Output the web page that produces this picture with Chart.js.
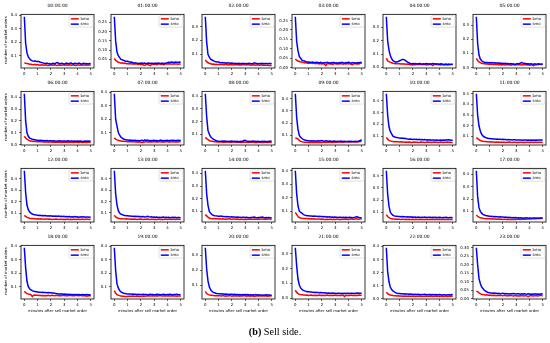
<!DOCTYPE html>
<html><head><meta charset="utf-8">
<script src="https://cdn.jsdelivr.net/npm/chart.js@4.4.1/dist/chart.umd.min.js"></script>
<style>
html,body{margin:0;padding:0;background:#fff;}
#wrap{position:relative;width:550px;height:343px;overflow:hidden;font-family:"DejaVu Sans",sans-serif;}
canvas{position:absolute;}
.t{position:absolute;white-space:nowrap;color:#000;line-height:1;}
</style></head>
<body><div id="wrap"></div>
<script>
const minutes = [0.0,0.1,0.2,0.3,0.4,0.5,0.6,0.7,0.8,0.9,1.0,1.1,1.2,1.3,1.4,1.5,1.6,1.7,1.8,1.9,2.0,2.1,2.2,2.3,2.4,2.5,2.6,2.7,2.8,2.9,3.0,3.1,3.2,3.3,3.4,3.5,3.6,3.7,3.8,3.9,4.0,4.1,4.2,4.3,4.4,4.5,4.6,4.7,4.8,4.9,5.0];
const xTicks = [0,1,2,3,4,5];
const panelTitles = ["00:00:00","01:00:00","02:00:00","03:00:00","04:00:00","05:00:00","06:00:00","07:00:00","08:00:00","09:00:00","10:00:00","11:00:00","12:00:00","13:00:00","14:00:00","15:00:00","16:00:00","17:00:00","18:00:00","19:00:00","20:00:00","21:00:00","22:00:00","23:00:00"];
const seriesNames = ["bmo","smo"];
const seriesColors = ["#ff0000","#0000ff"];
const yStep = [0.1,0.05,0.1,0.05,0.1,0.1, 0.1,0.1,0.1,0.1,0.1,0.1, 0.1,0.1,0.1,0.1,0.1,0.1, 0.1,0.1,0.1,0.1,0.1,0.05];

const smo00=[0.39,0.19,0.12,0.09,0.075,0.065,0.06,0.058,0.06,0.055,0.055,
0.056,0.05,0.048,0.045,0.042,0.04,0.043,0.038,0.04,0.036,
0.04,0.042,0.038,0.045,0.048,0.04,0.038,0.042,0.04,0.036,
0.04,0.043,0.038,0.04,0.045,0.04,0.037,0.042,0.04,0.038,
0.043,0.04,0.036,0.04,0.042,0.038,0.04,0.037,0.04,0.038];
const bmo00=[0.045,0.042,0.04,0.038,0.035,0.035,0.033,0.032,0.034,0.03,0.032,
0.03,0.028,0.031,0.029,0.027,0.03,0.028,0.025,0.028,0.03,
0.027,0.029,0.031,0.028,0.026,0.03,0.028,0.027,0.03,0.029,
0.027,0.03,0.028,0.031,0.029,0.027,0.03,0.028,0.026,0.029,
0.03,0.028,0.03,0.027,0.029,0.031,0.028,0.03,0.029,0.028];
const smo01=[0.28,0.15,0.09,0.07,0.06,0.05,0.048,0.045,0.042,0.04,0.04,
0.038,0.035,0.036,0.033,0.03,0.032,0.03,0.028,0.03,0.029,
0.031,0.028,0.03,0.027,0.029,0.031,0.028,0.03,0.029,0.027,
0.03,0.028,0.031,0.029,0.028,0.03,0.027,0.029,0.03,0.033,
0.035,0.034,0.036,0.035,0.034,0.036,0.035,0.034,0.036,0.035];
const bmo01=[0.055,0.045,0.04,0.035,0.033,0.03,0.032,0.028,0.03,0.027,0.028,
0.026,0.028,0.025,0.027,0.024,0.026,0.025,0.023,0.025,0.022,
0.024,0.02,0.018,0.022,0.024,0.02,0.017,0.022,0.025,0.023,
0.025,0.022,0.024,0.026,0.023,0.025,0.022,0.024,0.026,0.025,
0.027,0.025,0.026,0.024,0.027,0.025,0.026,0.024,0.025,0.026];
const smo02=[0.37,0.19,0.1,0.08,0.065,0.06,0.055,0.05,0.048,0.045,0.045,
0.042,0.04,0.042,0.038,0.04,0.037,0.04,0.038,0.036,0.038,
0.036,0.035,0.037,0.034,0.036,0.035,0.033,0.036,0.034,0.035,
0.033,0.035,0.036,0.034,0.033,0.035,0.04,0.036,0.034,0.033,
0.035,0.034,0.036,0.033,0.035,0.034,0.033,0.035,0.034,0.035];
const bmo02=[0.06,0.048,0.04,0.036,0.033,0.03,0.031,0.028,0.03,0.028,0.027,
0.029,0.027,0.028,0.026,0.028,0.027,0.025,0.028,0.026,0.027,
0.025,0.027,0.026,0.028,0.025,0.026,0.024,0.027,0.025,0.026,
0.024,0.026,0.025,0.023,0.025,0.024,0.026,0.023,0.025,0.024,
0.023,0.025,0.022,0.024,0.023,0.022,0.023,0.021,0.022,0.02];
const smo03=[0.27,0.14,0.09,0.06,0.05,0.04,0.037,0.035,0.032,0.03,0.03,
0.029,0.027,0.03,0.028,0.026,0.029,0.027,0.025,0.028,0.026,
0.024,0.027,0.025,0.028,0.026,0.024,0.027,0.025,0.028,0.024,
0.026,0.023,0.027,0.025,0.028,0.026,0.024,0.027,0.025,0.029,
0.026,0.024,0.027,0.025,0.026,0.024,0.027,0.025,0.028,0.026];
const bmo03=[0.045,0.04,0.035,0.033,0.03,0.03,0.028,0.025,0.027,0.024,0.025,
0.023,0.025,0.022,0.024,0.021,0.023,0.022,0.02,0.022,0.02,
0.022,0.018,0.011,0.02,0.022,0.019,0.021,0.017,0.02,0.022,
0.02,0.021,0.019,0.022,0.02,0.018,0.021,0.019,0.02,0.022,
0.02,0.018,0.016,0.02,0.022,0.019,0.021,0.02,0.025,0.022];
const smo04=[0.38,0.2,0.13,0.09,0.065,0.05,0.045,0.04,0.042,0.045,0.05,
0.055,0.06,0.06,0.055,0.048,0.04,0.035,0.03,0.028,0.03,
0.027,0.029,0.026,0.028,0.03,0.027,0.025,0.028,0.026,0.029,
0.027,0.025,0.028,0.026,0.029,0.027,0.025,0.028,0.026,0.024,
0.027,0.025,0.022,0.024,0.026,0.023,0.025,0.022,0.024,0.026];
const bmo04=[0.07,0.05,0.043,0.038,0.035,0.032,0.03,0.028,0.03,0.027,0.028,
0.026,0.027,0.025,0.026,0.024,0.025,0.023,0.02,0.022,0.018,
0.022,0.02,0.023,0.021,0.024,0.022,0.02,0.023,0.021,0.019,
0.022,0.02,0.023,0.021,0.014,0.022,0.024,0.021,0.02,0.022,
0.019,0.021,0.02,0.018,0.021,0.019,0.02,0.022,0.021,0.02];
const smo05=[0.36,0.17,0.09,0.06,0.048,0.042,0.038,0.036,0.035,0.034,0.035,
0.033,0.035,0.032,0.034,0.031,0.033,0.03,0.032,0.029,0.031,
0.028,0.03,0.027,0.029,0.026,0.028,0.025,0.027,0.022,0.025,
0.028,0.026,0.03,0.035,0.032,0.03,0.028,0.026,0.027,0.025,
0.027,0.025,0.024,0.026,0.023,0.025,0.027,0.024,0.022,0.026];
const bmo05=[0.065,0.05,0.04,0.035,0.03,0.028,0.027,0.025,0.026,0.024,0.025,
0.023,0.024,0.022,0.023,0.021,0.022,0.02,0.022,0.019,0.021,
0.02,0.018,0.021,0.019,0.02,0.017,0.019,0.02,0.018,0.02,
0.019,0.021,0.02,0.018,0.02,0.019,0.021,0.018,0.02,0.016,
0.019,0.018,0.014,0.018,0.02,0.019,0.022,0.023,0.025,0.024];
const smo06=[0.43,0.2,0.1,0.07,0.055,0.05,0.045,0.042,0.04,0.038,0.037,
0.035,0.036,0.034,0.035,0.033,0.032,0.034,0.031,0.033,0.032,
0.03,0.032,0.031,0.029,0.031,0.03,0.032,0.029,0.031,0.03,
0.028,0.03,0.032,0.029,0.031,0.03,0.028,0.03,0.029,0.031,
0.028,0.03,0.029,0.027,0.029,0.031,0.028,0.03,0.029,0.03];
const bmo06=[0.07,0.055,0.045,0.038,0.032,0.03,0.028,0.026,0.027,0.025,0.024,
0.025,0.023,0.024,0.022,0.023,0.021,0.022,0.02,0.022,0.021,
0.019,0.021,0.02,0.022,0.019,0.021,0.02,0.018,0.02,0.021,
0.019,0.02,0.018,0.021,0.019,0.02,0.017,0.019,0.021,0.02,
0.018,0.02,0.019,0.017,0.019,0.02,0.018,0.019,0.02,0.019];
const smo07=[0.39,0.2,0.15,0.1,0.08,0.065,0.058,0.052,0.048,0.046,0.045,
0.043,0.044,0.041,0.043,0.04,0.042,0.039,0.041,0.038,0.04,
0.042,0.038,0.045,0.04,0.043,0.039,0.041,0.038,0.04,0.042,
0.039,0.041,0.038,0.04,0.043,0.039,0.041,0.038,0.04,0.042,
0.039,0.041,0.043,0.04,0.042,0.039,0.041,0.043,0.04,0.042];
const bmo07=[0.06,0.05,0.045,0.042,0.038,0.036,0.034,0.035,0.033,0.034,0.032,
0.033,0.031,0.033,0.03,0.032,0.029,0.031,0.028,0.03,0.027,
0.025,0.028,0.03,0.032,0.03,0.031,0.029,0.031,0.03,0.032,
0.03,0.031,0.029,0.032,0.03,0.031,0.029,0.03,0.032,0.031,
0.029,0.031,0.03,0.032,0.03,0.029,0.031,0.03,0.032,0.031];
const smo08=[0.42,0.24,0.13,0.1,0.08,0.07,0.062,0.055,0.05,0.047,0.045,
0.042,0.045,0.047,0.044,0.046,0.043,0.045,0.042,0.044,0.046,
0.043,0.045,0.042,0.044,0.041,0.043,0.045,0.042,0.05,0.052,
0.047,0.043,0.045,0.042,0.044,0.046,0.043,0.045,0.042,0.044,
0.041,0.043,0.045,0.042,0.044,0.041,0.043,0.045,0.044,0.046];
const bmo08=[0.075,0.065,0.058,0.05,0.046,0.044,0.042,0.04,0.041,0.039,0.04,
0.038,0.04,0.037,0.039,0.036,0.038,0.04,0.037,0.039,0.036,
0.038,0.04,0.037,0.039,0.036,0.038,0.035,0.037,0.039,0.036,
0.038,0.035,0.037,0.039,0.036,0.038,0.035,0.037,0.034,0.036,
0.038,0.035,0.037,0.034,0.036,0.038,0.035,0.037,0.036,0.035];
const smo09=[0.44,0.25,0.15,0.1,0.085,0.075,0.068,0.063,0.06,0.058,0.057,
0.055,0.057,0.054,0.056,0.053,0.055,0.057,0.054,0.056,0.058,
0.055,0.053,0.056,0.054,0.052,0.055,0.053,0.051,0.054,0.052,
0.05,0.053,0.051,0.054,0.052,0.05,0.053,0.051,0.049,0.052,
0.05,0.053,0.051,0.049,0.052,0.05,0.052,0.055,0.06,0.065];
const bmo09=[0.08,0.078,0.07,0.06,0.052,0.048,0.046,0.045,0.044,0.045,0.043,
0.044,0.042,0.044,0.043,0.045,0.042,0.044,0.043,0.045,0.042,
0.044,0.046,0.043,0.045,0.047,0.044,0.046,0.043,0.045,0.047,
0.044,0.046,0.048,0.045,0.047,0.044,0.046,0.048,0.05,0.047,
0.049,0.046,0.048,0.05,0.047,0.049,0.046,0.048,0.05,0.052];
const smo10=[0.46,0.28,0.18,0.14,0.12,0.1,0.095,0.09,0.088,0.086,0.085,
0.083,0.084,0.08,0.082,0.078,0.076,0.074,0.077,0.075,0.073,
0.075,0.072,0.074,0.071,0.073,0.07,0.072,0.069,0.071,0.068,
0.07,0.067,0.069,0.066,0.068,0.067,0.065,0.068,0.066,0.065,
0.067,0.065,0.068,0.066,0.069,0.067,0.07,0.068,0.066,0.065];
const bmo10=[0.09,0.075,0.065,0.06,0.057,0.055,0.053,0.054,0.052,0.053,0.051,
0.052,0.05,0.051,0.049,0.05,0.048,0.05,0.049,0.047,0.049,
0.05,0.048,0.049,0.047,0.048,0.05,0.048,0.049,0.047,0.048,
0.05,0.048,0.049,0.047,0.049,0.05,0.048,0.049,0.047,0.048,
0.05,0.049,0.047,0.049,0.048,0.05,0.049,0.048,0.047,0.046];
const smo11=[0.50,0.3,0.2,0.15,0.12,0.105,0.095,0.09,0.085,0.082,0.08,
0.078,0.079,0.076,0.077,0.075,0.076,0.073,0.074,0.072,0.073,
0.071,0.072,0.07,0.071,0.069,0.07,0.068,0.07,0.069,0.067,
0.068,0.066,0.068,0.067,0.065,0.067,0.066,0.064,0.066,0.065,
0.067,0.065,0.066,0.064,0.066,0.065,0.067,0.066,0.068,0.067];
const bmo11=[0.09,0.08,0.07,0.062,0.058,0.055,0.053,0.052,0.05,0.051,0.049,
0.05,0.048,0.049,0.047,0.048,0.046,0.048,0.047,0.045,0.047,
0.046,0.044,0.046,0.045,0.047,0.045,0.044,0.046,0.045,0.043,
0.045,0.044,0.046,0.045,0.043,0.045,0.044,0.046,0.045,0.044,
0.046,0.045,0.044,0.046,0.045,0.044,0.045,0.046,0.045,0.044];
const smo12=[0.47,0.28,0.17,0.13,0.11,0.1,0.092,0.088,0.085,0.082,0.08,
0.078,0.08,0.077,0.079,0.076,0.078,0.075,0.077,0.074,0.076,
0.073,0.075,0.072,0.074,0.071,0.073,0.07,0.072,0.069,0.071,
0.068,0.07,0.067,0.069,0.066,0.068,0.065,0.07,0.066,0.068,
0.064,0.066,0.068,0.065,0.067,0.064,0.066,0.065,0.064,0.065];
const bmo12=[0.08,0.07,0.062,0.058,0.055,0.053,0.052,0.05,0.051,0.049,0.05,
0.048,0.049,0.047,0.048,0.046,0.048,0.047,0.045,0.047,0.046,
0.044,0.046,0.045,0.047,0.045,0.044,0.046,0.045,0.043,0.045,
0.044,0.046,0.045,0.043,0.045,0.044,0.046,0.045,0.044,0.046,
0.045,0.044,0.046,0.045,0.044,0.045,0.046,0.045,0.044,0.045];
const smo13=[0.47,0.27,0.17,0.12,0.1,0.09,0.085,0.08,0.078,0.076,0.075,
0.073,0.074,0.071,0.072,0.07,0.071,0.068,0.07,0.067,0.069,
0.066,0.068,0.065,0.067,0.07,0.066,0.064,0.066,0.063,0.065,
0.062,0.064,0.061,0.063,0.06,0.062,0.064,0.061,0.063,0.06,
0.062,0.059,0.061,0.063,0.06,0.062,0.059,0.061,0.06,0.059];
const bmo13=[0.08,0.065,0.058,0.054,0.052,0.05,0.049,0.048,0.047,0.048,0.046,
0.047,0.045,0.046,0.044,0.046,0.045,0.043,0.045,0.044,0.046,
0.044,0.043,0.045,0.044,0.046,0.044,0.043,0.045,0.044,0.042,
0.044,0.043,0.045,0.044,0.042,0.044,0.043,0.045,0.044,0.043,
0.045,0.044,0.043,0.045,0.044,0.043,0.044,0.045,0.044,0.043];
const smo14=[0.42,0.24,0.15,0.1,0.085,0.075,0.07,0.066,0.065,0.064,0.063,
0.062,0.063,0.06,0.061,0.059,0.06,0.058,0.059,0.057,0.058,
0.056,0.057,0.055,0.056,0.054,0.055,0.053,0.055,0.054,0.052,
0.054,0.053,0.051,0.053,0.052,0.054,0.056,0.053,0.051,0.053,
0.052,0.054,0.056,0.052,0.05,0.052,0.05,0.053,0.051,0.05];
const bmo14=[0.075,0.065,0.055,0.048,0.045,0.043,0.042,0.044,0.042,0.043,0.041,
0.042,0.04,0.042,0.041,0.039,0.041,0.04,0.042,0.04,0.039,
0.041,0.04,0.038,0.04,0.039,0.037,0.039,0.038,0.036,0.038,
0.037,0.039,0.038,0.04,0.038,0.039,0.041,0.039,0.038,0.04,
0.039,0.041,0.04,0.038,0.04,0.039,0.041,0.04,0.039,0.04];
const smo15=[0.40,0.23,0.14,0.1,0.09,0.085,0.075,0.07,0.068,0.066,0.065,
0.063,0.064,0.062,0.063,0.061,0.062,0.06,0.061,0.059,0.06,
0.058,0.059,0.057,0.058,0.056,0.057,0.055,0.056,0.054,0.056,
0.055,0.053,0.055,0.054,0.052,0.054,0.053,0.055,0.053,0.052,
0.054,0.053,0.051,0.053,0.055,0.058,0.056,0.053,0.051,0.05];
const bmo15=[0.09,0.075,0.06,0.052,0.048,0.046,0.045,0.044,0.045,0.043,0.044,
0.042,0.043,0.041,0.043,0.042,0.04,0.042,0.041,0.039,0.041,
0.04,0.038,0.037,0.039,0.038,0.04,0.039,0.037,0.039,0.038,
0.04,0.039,0.037,0.039,0.038,0.04,0.039,0.041,0.04,0.038,
0.04,0.042,0.04,0.039,0.041,0.043,0.041,0.04,0.042,0.041];
const smo16=[0.44,0.25,0.15,0.1,0.085,0.075,0.07,0.068,0.067,0.066,0.065,
0.064,0.065,0.063,0.064,0.062,0.063,0.061,0.062,0.06,0.061,
0.059,0.06,0.058,0.06,0.059,0.057,0.059,0.058,0.06,0.058,
0.057,0.059,0.058,0.056,0.058,0.057,0.059,0.057,0.056,0.058,
0.057,0.055,0.057,0.056,0.058,0.056,0.055,0.057,0.056,0.055];
const bmo16=[0.08,0.065,0.055,0.05,0.046,0.044,0.045,0.043,0.044,0.042,0.043,
0.041,0.043,0.042,0.04,0.042,0.041,0.043,0.041,0.04,0.042,
0.041,0.043,0.041,0.04,0.042,0.041,0.043,0.041,0.04,0.042,
0.041,0.04,0.042,0.041,0.043,0.041,0.04,0.042,0.041,0.043,
0.041,0.04,0.042,0.041,0.04,0.042,0.041,0.04,0.042,0.041];
const smo17=[0.43,0.22,0.13,0.1,0.085,0.075,0.07,0.066,0.064,0.062,0.06,
0.058,0.059,0.056,0.057,0.055,0.056,0.054,0.055,0.053,0.054,
0.052,0.053,0.05,0.052,0.049,0.05,0.048,0.05,0.047,0.049,
0.046,0.048,0.045,0.047,0.044,0.046,0.045,0.047,0.044,0.046,
0.045,0.044,0.046,0.045,0.043,0.045,0.044,0.046,0.045,0.046];
const bmo17=[0.07,0.06,0.052,0.047,0.045,0.043,0.042,0.04,0.041,0.039,0.04,
0.038,0.039,0.037,0.038,0.036,0.037,0.035,0.037,0.036,0.034,
0.036,0.035,0.033,0.035,0.034,0.036,0.034,0.033,0.035,0.034,
0.036,0.035,0.034,0.036,0.035,0.037,0.036,0.038,0.037,0.039,
0.038,0.04,0.039,0.041,0.04,0.042,0.041,0.043,0.042,0.043];
const smo18=[0.39,0.24,0.14,0.1,0.085,0.075,0.07,0.066,0.064,0.062,0.06,
0.058,0.059,0.057,0.058,0.056,0.057,0.055,0.056,0.054,0.055,
0.053,0.052,0.05,0.048,0.047,0.046,0.045,0.046,0.044,0.045,
0.043,0.044,0.042,0.043,0.041,0.042,0.04,0.042,0.041,0.04,
0.041,0.039,0.04,0.042,0.04,0.039,0.041,0.04,0.039,0.038];
const bmo18=[0.065,0.055,0.048,0.045,0.043,0.04,0.026,0.036,0.037,0.035,0.036,
0.034,0.035,0.033,0.034,0.032,0.034,0.033,0.035,0.033,0.034,
0.036,0.034,0.033,0.035,0.034,0.032,0.034,0.033,0.035,0.034,
0.032,0.034,0.033,0.035,0.033,0.032,0.034,0.033,0.035,0.034,
0.032,0.034,0.033,0.031,0.033,0.032,0.028,0.031,0.033,0.03];
const smo19=[0.39,0.22,0.12,0.09,0.07,0.06,0.055,0.05,0.048,0.046,0.045,
0.044,0.045,0.043,0.044,0.042,0.043,0.041,0.042,0.04,0.041,
0.04,0.042,0.04,0.041,0.039,0.04,0.042,0.04,0.041,0.039,
0.04,0.042,0.04,0.041,0.039,0.04,0.042,0.04,0.039,0.041,
0.04,0.042,0.04,0.039,0.041,0.04,0.042,0.04,0.039,0.04];
const bmo19=[0.07,0.05,0.04,0.035,0.032,0.03,0.028,0.027,0.026,0.025,0.026,
0.027,0.028,0.027,0.029,0.028,0.027,0.029,0.028,0.026,0.028,
0.027,0.029,0.028,0.03,0.029,0.031,0.03,0.029,0.031,0.03,
0.029,0.031,0.03,0.032,0.031,0.03,0.029,0.031,0.03,0.029,
0.031,0.03,0.029,0.031,0.03,0.029,0.028,0.03,0.029,0.028];
const smo20=[0.35,0.21,0.13,0.09,0.07,0.06,0.053,0.05,0.047,0.045,0.044,
0.043,0.042,0.043,0.041,0.042,0.04,0.041,0.039,0.04,0.041,
0.039,0.04,0.038,0.039,0.037,0.038,0.036,0.038,0.037,0.039,
0.037,0.038,0.036,0.037,0.035,0.037,0.036,0.038,0.036,0.037,
0.035,0.036,0.034,0.036,0.035,0.037,0.035,0.036,0.034,0.035];
const bmo20=[0.06,0.045,0.04,0.036,0.034,0.033,0.032,0.031,0.032,0.03,0.031,
0.03,0.029,0.031,0.03,0.028,0.03,0.029,0.031,0.03,0.028,
0.03,0.029,0.031,0.029,0.03,0.028,0.03,0.029,0.031,0.03,
0.028,0.03,0.029,0.027,0.029,0.028,0.025,0.028,0.03,0.029,
0.028,0.03,0.029,0.028,0.03,0.029,0.027,0.029,0.028,0.03];
const smo21=[0.34,0.22,0.13,0.09,0.07,0.06,0.054,0.05,0.047,0.045,0.044,
0.043,0.042,0.041,0.04,0.041,0.039,0.04,0.038,0.039,0.037,
0.038,0.036,0.037,0.035,0.036,0.034,0.035,0.036,0.034,0.035,
0.033,0.034,0.035,0.033,0.034,0.032,0.034,0.033,0.035,0.034,
0.033,0.035,0.034,0.033,0.035,0.034,0.036,0.034,0.035,0.034];
const bmo21=[0.055,0.04,0.032,0.028,0.025,0.024,0.022,0.023,0.021,0.022,0.02,
0.021,0.022,0.02,0.021,0.019,0.021,0.02,0.022,0.02,0.021,
0.019,0.021,0.02,0.022,0.02,0.021,0.019,0.021,0.02,0.022,
0.02,0.021,0.019,0.021,0.02,0.022,0.012,0.021,0.019,0.021,
0.02,0.022,0.02,0.021,0.019,0.021,0.02,0.022,0.021,0.02];
const smo22=[0.39,0.21,0.13,0.09,0.07,0.06,0.052,0.047,0.043,0.041,0.04,
0.038,0.039,0.037,0.038,0.036,0.037,0.035,0.036,0.034,0.035,
0.033,0.034,0.032,0.034,0.033,0.031,0.033,0.032,0.034,0.032,
0.031,0.033,0.032,0.03,0.032,0.031,0.033,0.031,0.03,0.032,
0.031,0.029,0.031,0.03,0.028,0.03,0.031,0.029,0.033,0.031];
const bmo22=[0.05,0.04,0.033,0.029,0.027,0.025,0.024,0.023,0.022,0.023,0.021,
0.022,0.02,0.021,0.019,0.021,0.02,0.022,0.02,0.019,0.021,
0.02,0.018,0.02,0.019,0.021,0.02,0.018,0.02,0.019,0.021,
0.02,0.019,0.021,0.02,0.018,0.02,0.019,0.021,0.02,0.018,
0.02,0.019,0.017,0.019,0.02,0.018,0.02,0.019,0.021,0.02];
const smo23=[0.30,0.2,0.12,0.09,0.07,0.06,0.05,0.045,0.04,0.037,0.035,
0.034,0.033,0.034,0.032,0.033,0.031,0.032,0.03,0.031,0.033,
0.03,0.031,0.029,0.03,0.028,0.03,0.029,0.031,0.029,0.028,
0.03,0.029,0.027,0.029,0.028,0.03,0.028,0.027,0.029,0.028,
0.026,0.028,0.027,0.029,0.028,0.026,0.028,0.027,0.029,0.028];
const bmo23=[0.045,0.042,0.035,0.03,0.027,0.025,0.024,0.022,0.023,0.021,0.022,
0.02,0.021,0.019,0.02,0.018,0.02,0.019,0.021,0.019,0.018,
0.02,0.019,0.017,0.019,0.018,0.02,0.018,0.017,0.019,0.018,
0.016,0.018,0.017,0.019,0.018,0.016,0.018,0.017,0.013,0.017,
0.019,0.018,0.016,0.018,0.019,0.017,0.018,0.02,0.019,0.018];

const bmoSeries=[bmo00,bmo01,bmo02,bmo03,bmo04,bmo05,bmo06,bmo07,bmo08,bmo09,bmo10,bmo11,bmo12,bmo13,bmo14,bmo15,bmo16,bmo17,bmo18,bmo19,bmo20,bmo21,bmo22,bmo23];
const smoSeries=[smo00,smo01,smo02,smo03,smo04,smo05,smo06,smo07,smo08,smo09,smo10,smo11,smo12,smo13,smo14,smo15,smo16,smo17,smo18,smo19,smo20,smo21,smo22,smo23];

// layout
const colLeft=[21,111,202,292,383,473];
const rowTop=[12,89,166,243];
const plotW=73, plotH=56;
const padL=20,padT=2,padR=3,padB=10;
const FONT='"DejaVu Sans", sans-serif';
const LW=1.5;

const wrap=document.getElementById('wrap');
function addText(txt,x,y,size,extra){
  const d=document.createElement('div');d.className='t';d.textContent=txt;
  d.style.fontSize=size+'px';d.style.left=x+'px';d.style.top=y+'px';
  d.style.transform='translate(-50%,-50%)'+(extra||'');
  wrap.appendChild(d);return d;
}
const framePlugin={id:'frame',afterDraw(chart){
  const a=chart.chartArea,ctx=chart.ctx;
  ctx.save();ctx.strokeStyle='#000';ctx.lineWidth=0.8;
  ctx.strokeRect(a.left,a.top,a.right-a.left,a.bottom-a.top);
  const bw=24,bh=11.5,bx=a.right-bw-1,by=a.top+1.3;
  ctx.fillStyle='rgba(255,255,255,0.85)';ctx.strokeStyle='#cccccc';ctx.lineWidth=0.6;
  ctx.beginPath();
  if(ctx.roundRect)ctx.roundRect(bx,by,bw,bh,1.5);else ctx.rect(bx,by,bw,bh);
  ctx.fill();ctx.stroke();
  ctx.font='3.9px '+FONT;ctx.textBaseline='middle';ctx.textAlign='left';
  for(let k=0;k<2;k++){
    const yy=by+3.2+k*5.3;
    ctx.strokeStyle=seriesColors[k];ctx.lineWidth=LW;
    ctx.beginPath();ctx.moveTo(bx+1.8,yy);ctx.lineTo(bx+9.8,yy);ctx.stroke();
    ctx.fillStyle='#000';ctx.fillText(seriesNames[k],bx+11.5,yy+0.2);
  }
  ctx.restore();
}};

const bad=[];
for(let i=0;i<24;i++){
  const r=Math.floor(i/6),c=i%6;
  const L=colLeft[c],T=rowTop[r];
  const b=bmoSeries[i],s=smoSeries[i];
  if(b.length!==minutes.length||s.length!==minutes.length)bad.push(i+':'+b.length+'/'+s.length);
  const all=b.concat(s);
  const lo=Math.min(...all),hi=Math.max(...all),pad=0.05*(hi-lo);
  const step=yStep[i],dec=step<0.1?2:1;
  const cv=document.createElement('canvas');
  const W=padL+plotW+padR,H=padT+plotH+padB;
  cv.width=W;cv.height=H;cv.style.width=W+'px';cv.style.height=H+'px';
  cv.style.left=(L-padL)+'px';cv.style.top=(T-padT)+'px';
  wrap.appendChild(cv);
  new Chart(cv,{type:'line',
    data:{datasets:[
      {label:seriesNames[1],data:minutes.map((x,k)=>({x:x,y:s[k]})),borderColor:seriesColors[1],borderWidth:LW,pointRadius:0,tension:0,order:0},
      {label:seriesNames[0],data:minutes.map((x,k)=>({x:x,y:b[k]})),borderColor:seriesColors[0],borderWidth:LW,pointRadius:0,tension:0,order:1}
    ]},
    options:{responsive:false,animation:false,devicePixelRatio:1,events:[],
      layout:{padding:{left:0,top:padT,right:padR,bottom:0}},
      plugins:{legend:{display:false},tooltip:{enabled:false},title:{display:false}},
      scales:{
        x:{type:'linear',min:-0.25,max:5.25,
          afterFit:sc=>{sc.height=padB;},
          afterBuildTicks:sc=>{sc.ticks=xTicks.map(v=>({value:v}));},
          ticks:{stepSize:1,includeBounds:false,autoSkip:false,maxRotation:0,padding:1.5,color:'#000',font:{family:FONT,size:3.9},callback:v=>String(v)},
          grid:{display:true,drawOnChartArea:false,drawTicks:true,tickLength:2,color:'#000',lineWidth:0.6},
          border:{display:false}},
        y:{type:'linear',min:lo-pad,max:hi+pad,
          afterFit:sc=>{sc.width=padL;},
          ticks:{stepSize:step,includeBounds:false,autoSkip:false,padding:2,color:'#000',font:{family:FONT,size:3.9},callback:v=>Number(v).toFixed(dec)},
          grid:{display:true,drawOnChartArea:false,drawTicks:true,tickLength:2,color:'#000',lineWidth:0.6},
          border:{display:false}}
      }},
    plugins:[framePlugin]});
  addText(panelTitles[i],L+plotW/2,T-6,4.5);
  if(c===0) addText('number of market orders',6,T+plotH/2,3.8,' rotate(-90deg)');
  if(r===3) addText('minutes after sell market order',L+plotW/2,T+plotH+12.4,3.8);
}
const cap=addText('',275,332,10.2);
cap.style.fontFamily='"Liberation Serif","DejaVu Serif",serif';
cap.innerHTML='<b>(b)</b> Sell side.';
if(bad.length) throw new Error('bad lengths '+bad.join(','));
</script></body></html>
